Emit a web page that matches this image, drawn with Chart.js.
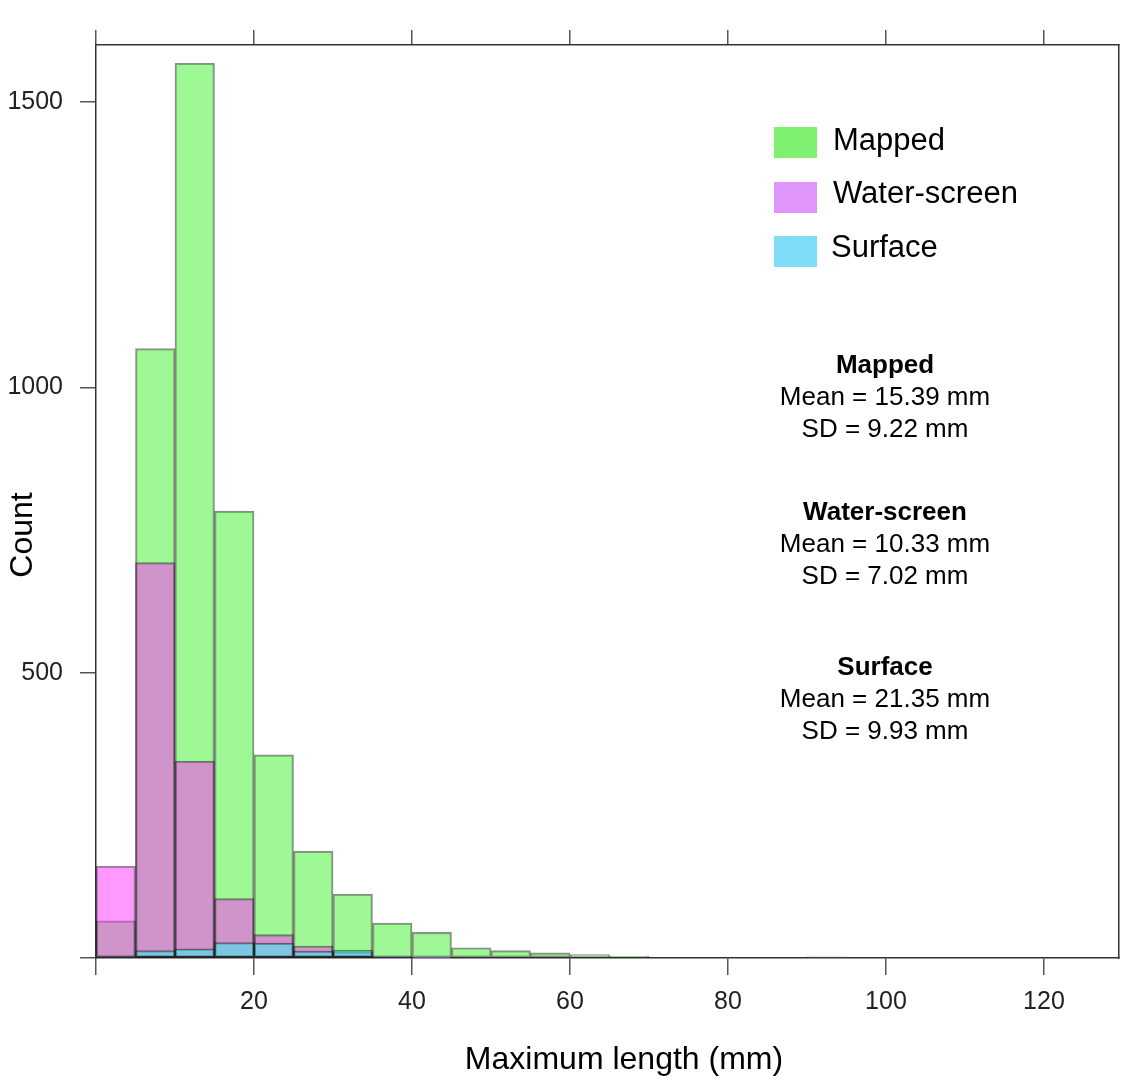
<!DOCTYPE html>
<html>
<head>
<meta charset="utf-8">
<script src="https://cdn.jsdelivr.net/npm/chart.js@4.4.1/dist/chart.umd.min.js"></script>
<style>
  html, body { margin: 0; padding: 0; background: #fff; }
  #wrap { position: relative; width: 1122px; height: 1086px; overflow: hidden; }
  #c { position: absolute; left: 0; top: 0; }
  .txt { position: absolute; font-family: "Liberation Sans", Arial, Helvetica, sans-serif; color: #000; white-space: nowrap; }
  .legbox { position: absolute; width: 43px; height: 31px; }
  .legtxt { font-size: 31px; line-height: 31px; }
  .stats { font-size: 26px; line-height: 32px; text-align: center; width: 300px; }
  .stats b { font-weight: bold; }
</style>
</head>
<body>
<div id="wrap">
  <canvas id="c" width="1122" height="1086"></canvas>
</div>
<script>
// ---- data ----
const binLower = [0, 5, 10, 15, 20, 25, 30, 35, 40, 45, 50, 55, 60, 65, 70, 75, 80, 85, 90, 95, 100, 105, 110, 115, 120];
const binWidth = 5;
const mapped      = [65, 1068, 1568, 783, 356, 187, 112, 61, 45, 18, 13, 9, 6, 3, 0, 0, 0, 0, 2, 0, 0, 0, 0, 0, 0];
const waterScreen = [161, 693, 345, 104, 41, 21, 11, 2, 1, 0, 0, 0, 0, 0, 0, 0, 0, 0, 0, 0, 0, 0, 0, 0, 0];
const surface     = [0, 13, 16, 27, 26, 12, 14, 3, 1, 0, 0, 0, 0, 0, 0, 0, 0, 0, 0, 0, 0, 0, 0, 0, 0];
const seriesNames = ["Mapped", "Water-screen", "Surface"];
const xTickValues = [0, 20, 40, 60, 80, 100, 120];
const yTickValues = [0, 500, 1000, 1500];
const statsMean = ["15.39", "10.33", "21.35"];
const statsSD   = ["9.22", "7.02", "9.93"];
const xTitle = "Maximum length (mm)";
const yTitle = "Count";

// ---- styles ----
const barColors    = ["rgba(64,241,45,0.5)", "rgba(255,51,255,0.5)", "rgba(44,246,248,0.5)"];
const legendColors = ["#80F070", "#E095FA", "#80DDF8"];
const FONT = '"Liberation Sans", Arial, Helvetica, sans-serif';

function toPoints(arr) {
  return arr.map((v, i) => ({ x: binLower[i] + binWidth / 2, y: v }));
}

const allSeries = [mapped, waterScreen, surface];
const datasets = allSeries.map((arr, i) => ({
  label: seriesNames[i],
  data: toPoints(arr),
  backgroundColor: barColors[i],
  borderColor: "rgba(0,0,0,0.45)",
  borderWidth: 1.5,
  borderSkipped: false,
  barPercentage: 1.0,
  categoryPercentage: 1.0,
  grouped: false,
  order: 3 - i
}));

const axisColor = "#333";
const fixTicks = (vals) => (scale) => { scale.ticks = vals.map(v => ({ value: v })); };

// Axis titles drawn as canvas text at the reference's positions
const axisTitlePlugin = {
  id: "axisTitles",
  afterDraw(chart) {
    const ctx = chart.ctx;
    ctx.save();
    ctx.fillStyle = "#000";
    ctx.font = "32px " + FONT;
    ctx.textAlign = "center";
    ctx.textBaseline = "middle";
    ctx.fillText(xTitle, 624, 1060);
    ctx.translate(23, 535);
    ctx.rotate(-Math.PI / 2);
    ctx.fillText(yTitle, 0, 0);
    ctx.restore();
  }
};

new Chart(document.getElementById("c"), {
  type: "bar",
  data: { datasets },
  plugins: [axisTitlePlugin],
  options: {
    responsive: false,
    animation: false,
    devicePixelRatio: 1,
    layout: { padding: { left: 0, right: 3, top: 0, bottom: 0 } },
    plugins: { legend: { display: false }, tooltip: { enabled: false } },
    scales: {
      x: {
        type: "linear", position: "bottom", min: 0, max: 129.5, offset: false,
        afterBuildTicks: fixTicks(xTickValues),
        afterFit: (s) => { s.height = 128; },
        ticks: { autoSkip: false, maxRotation: 0, padding: 12, color: "#222",
                 font: { family: FONT, size: 25 },
                 callback: (v) => (v === 0 ? "" : String(v)) },
        grid: { offset: false, drawOnChartArea: false, drawTicks: true, tickLength: 17, color: "#555", lineWidth: 1.5 },
        border: { display: true, color: axisColor, width: 1.5 },
        title: { display: false, text: xTitle }
      },
      x2: {
        type: "linear", position: "top", min: 0, max: 129.5, offset: false,
        afterBuildTicks: fixTicks(xTickValues),
        afterFit: (s) => { s.height = 45; },
        ticks: { autoSkip: false, maxRotation: 0, callback: () => "" },
        grid: { offset: false, drawOnChartArea: false, drawTicks: true, tickLength: 15, color: "#555", lineWidth: 1.5 },
        border: { display: true, color: axisColor, width: 1.5 }
      },
      y: {
        type: "linear", position: "left", min: 0, max: 1600,
        afterBuildTicks: fixTicks(yTickValues),
        afterFit: (s) => { s.width = 96; },
        ticks: { padding: 17, color: "#222", font: { family: FONT, size: 25 },
                 callback: (v) => (v === 0 ? "" : String(v)) },
        grid: { offset: false, drawOnChartArea: false, drawTicks: true, tickLength: 16, color: "#555", lineWidth: 1.5 },
        border: { display: true, color: axisColor, width: 1.5 },
        title: { display: false, text: yTitle }
      },
      y2: {
        type: "linear", position: "right", min: 0, max: 1600,
        afterFit: (s) => { s.width = 0; },
        ticks: { display: false },
        grid: { drawOnChartArea: false, drawTicks: false },
        border: { display: true, color: axisColor, width: 1.5 }
      }
    }
  }
});

// ---- legend and statistics text (HTML overlays) ----
const wrap = document.getElementById("wrap");
const legendTops = [127, 182, 236];
const legendTextTops = [124, 177, 231];
seriesNames.forEach((name, i) => {
  const b = document.createElement("div");
  b.className = "legbox";
  b.style.left = "774px"; b.style.top = legendTops[i] + "px";
  b.style.background = legendColors[i];
  wrap.appendChild(b);
  const t = document.createElement("div");
  t.className = "txt legtxt";
  t.style.left = (i === 2 ? 831 : 833) + "px"; t.style.top = legendTextTops[i] + "px";
  t.textContent = name;
  wrap.appendChild(t);
});
const statTops = [348, 495, 650];
seriesNames.forEach((name, i) => {
  const d = document.createElement("div");
  d.className = "txt stats";
  d.style.left = (885 - 150) + "px"; d.style.top = statTops[i] + "px";
  const h = document.createElement("b"); h.textContent = name;
  d.appendChild(h);
  d.appendChild(document.createElement("br"));
  d.appendChild(document.createTextNode("Mean = " + statsMean[i] + " mm"));
  d.appendChild(document.createElement("br"));
  d.appendChild(document.createTextNode("SD = " + statsSD[i] + " mm"));
  wrap.appendChild(d);
});
</script>
</body>
</html>
